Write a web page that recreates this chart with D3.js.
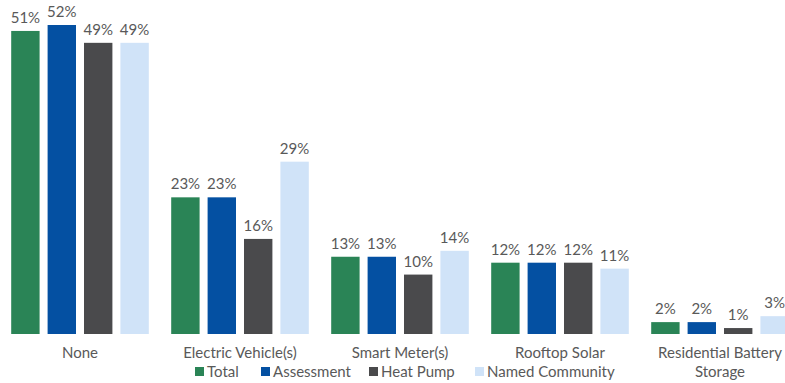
<!DOCTYPE html>
<html>
<head>
<meta charset="utf-8">
<script src="https://cdn.jsdelivr.net/npm/d3@7/dist/d3.min.js"></script>
<style>
  html, body { margin: 0; padding: 0; background: #fff; }
  svg { display: block; font-family: Lato, "Open Sans", sans-serif; }
</style>
</head>
<body>
<svg id="chart" width="785" height="383"></svg>
<script>
// Technologies owned, by survey group (percent)
const categories = ["None", "Electric Vehicle(s)", "Smart Meter(s)", "Rooftop Solar", "Residential Battery Storage"];
const seriesNames = ["Total", "Assessment", "Heat Pump", "Named Community"];
const total = [51, 23, 13, 12, 2];
const assessment = [52, 23, 13, 12, 2];
const heatPump = [49, 16, 10, 12, 1];
const namedCommunity = [49, 29, 14, 11, 3];
const colors = ["#2a8456", "#0450a2", "#4a4a4c", "#d0e3f8"];

const seriesValues = [total, assessment, heatPump, namedCommunity];
const rows = categories.map((c, i) => ({
  category: c,
  values: seriesNames.map((s, j) => ({ series: s, value: seriesValues[j][i], idx: j }))
}));

const svg = d3.select("#chart");
const baseline = 334;
const textColor = "#595959";
const fontSize = 15;

const x0 = d3.scaleBand().domain(categories).range([0, 800]).paddingInner(0.14).paddingOuter(0.07);
const x1 = d3.scaleBand().domain(seriesNames).range([0, x0.bandwidth()]).paddingInner(0.22);
const y = d3.scaleLinear().domain([0, 52]).range([baseline, 25]);

const groups = svg.append("g").selectAll("g").data(rows).join("g")
  .attr("transform", d => `translate(${x0(d.category)},0)`);

groups.selectAll("rect").data(d => d.values).join("rect")
  .attr("x", d => x1(d.series))
  .attr("y", d => y(d.value))
  .attr("width", x1.bandwidth())
  .attr("height", d => baseline - y(d.value))
  .attr("fill", d => colors[d.idx]);

groups.selectAll("text.val").data(d => d.values).join("text")
  .attr("class", "val")
  .attr("x", d => x1(d.series) + x1.bandwidth() / 2)
  .attr("y", d => y(d.value) - 8)
  .attr("text-anchor", "middle")
  .attr("font-size", fontSize)
  .attr("fill", textColor)
  .text(d => d.value + "%");

// Category labels, wrapped for the long one
const catLines = {
  "Residential Battery Storage": ["Residential Battery", "Storage"]
};
const catG = svg.append("g").selectAll("text").data(categories).join("text")
  .attr("x", d => x0(d) + x0.bandwidth() / 2)
  .attr("y", 358)
  .attr("text-anchor", "middle")
  .attr("font-size", fontSize)
  .attr("fill", textColor);
catG.each(function(d) {
  const lines = catLines[d] || [d];
  d3.select(this).selectAll("tspan").data(lines).join("tspan")
    .attr("x", x0(d) + x0.bandwidth() / 2)
    .attr("dy", (l, i) => i === 0 ? 0 : 19)
    .text(l => l);
});

// Legend
const legendX = [195, 261, 369, 475];
const legend = svg.append("g").selectAll("g").data(seriesNames).join("g")
  .attr("transform", (d, i) => `translate(${legendX[i]},367)`);
legend.append("rect")
  .attr("width", 9).attr("height", 9)
  .attr("fill", (d, i) => colors[i]);
legend.append("text")
  .attr("x", 12).attr("y", 9.5)
  .attr("font-size", fontSize)
  .attr("fill", textColor)
  .text(d => d);
</script>
</body>
</html>
